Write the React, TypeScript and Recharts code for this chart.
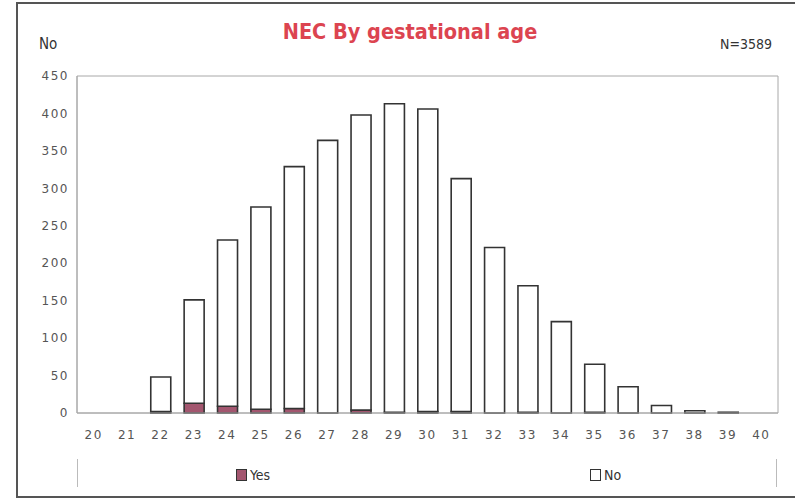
import React from "react";
import { BarChart, Bar, XAxis, YAxis, Legend, ReferenceArea } from "recharts";

const ages = ["20","21","22","23","24","25","26","27","28","29","30","31","32","33","34","35","36","37","38","39","40"];
const totals = [0, 0, 48, 151, 231, 275, 329, 364, 398, 413, 406, 313, 221, 170, 122, 65, 35, 10, 3, 1, 0];
const yes = [0, 0, 2, 13, 9, 5, 6, 0, 4, 1, 2, 2, 0, 1, 0, 1, 0, 0, 0, 0, 0];
const yTicks = [0, 50, 100, 150, 200, 250, 300, 350, 400, 450];
const seriesNames = ["Yes", "No"];
const title = "NEC By gestational age";
const yLabel = "No";
const nLabel = "N=3589";

const data = ages.map((a, i) => ({ age: a, Yes: yes[i], No: totals[i] - yes[i] }));

const YES_COLOR = "#a3566f";
const FRAME = "#a8a8a8";
const condensed: React.CSSProperties = { fontFamily: "'DejaVu Sans'", fontStretch: "condensed" };

const renderLegend = () => (
  <div style={{ position: "relative", width: 700, height: 28, borderLeft: "1px solid #bbb", borderRight: "1px solid #bbb", boxSizing: "border-box" }}>
    {seriesNames.map((n, i) => (
      <div key={n} style={{ position: "absolute", left: i === 0 ? 158 : 512, top: 8, display: "flex", alignItems: "center", ...condensed, fontSize: 14, color: "#333" }}>
        <span style={{ display: "inline-block", width: 9, height: 10, border: "1px solid #333", background: i === 0 ? YES_COLOR : "#fff", marginRight: 3 }} />
        <span>{n}</span>
      </div>
    ))}
  </div>
);

export default function App() {
  return (
    <div style={{ position: "absolute", left: 0, top: 0, width: 795, height: 500, overflow: "hidden", background: "#fff" }}>
      <div style={{ position: "absolute", left: 16, top: 2, width: 800, height: 496, border: "2px solid #555", boxSizing: "border-box" }} />
      <div style={{ position: "absolute", left: 0, width: 820, top: 19, textAlign: "center", ...condensed, fontWeight: "bold", fontSize: 21.5, color: "#dc4450" }}>{title}</div>
      <div style={{ position: "absolute", left: 39, top: 35, ...condensed, fontSize: 15, color: "#333" }}>{yLabel}</div>
      <div style={{ position: "absolute", left: 720, top: 36, ...condensed, fontSize: 14, color: "#333" }}>{nLabel}</div>
      <div style={{ position: "absolute", left: 0, top: 0 }}>
        <BarChart width={795} height={500} data={data} margin={{ top: 76, right: 17, bottom: 57, left: 17 }} barSize={20}>
          <ReferenceArea x1="20" x2="40" y1={0} y2={450} fill="none" stroke={FRAME} strokeWidth={1} ifOverflow="visible" />
          <XAxis dataKey="age" interval={0} tickLine={false} axisLine={{ stroke: FRAME }} height={30} tickMargin={11}
            tick={{ fill: "#555", fontSize: 12, fontFamily: "'DejaVu Sans'", letterSpacing: 1.5 }} />
          <YAxis domain={[0, 450]} ticks={yTicks} interval={0} width={60} tickLine={false} axisLine={{ stroke: FRAME }} tickMargin={2}
            tick={{ fill: "#555", fontSize: 12, fontFamily: "'DejaVu Sans'", letterSpacing: 1.5 }} />
          <Legend layout="horizontal" verticalAlign="middle" align="center" content={renderLegend}
            wrapperStyle={{ position: "absolute", left: 77, top: 459, width: 701, height: 28 }} />
          <Bar dataKey="Yes" stackId="a" fill={YES_COLOR} stroke="#333" strokeWidth={1.6} isAnimationActive={false} />
          <Bar dataKey="No" stackId="a" fill="#fff" stroke="#333" strokeWidth={1.6} isAnimationActive={false} />
        </BarChart>
      </div>
    </div>
  );
}
